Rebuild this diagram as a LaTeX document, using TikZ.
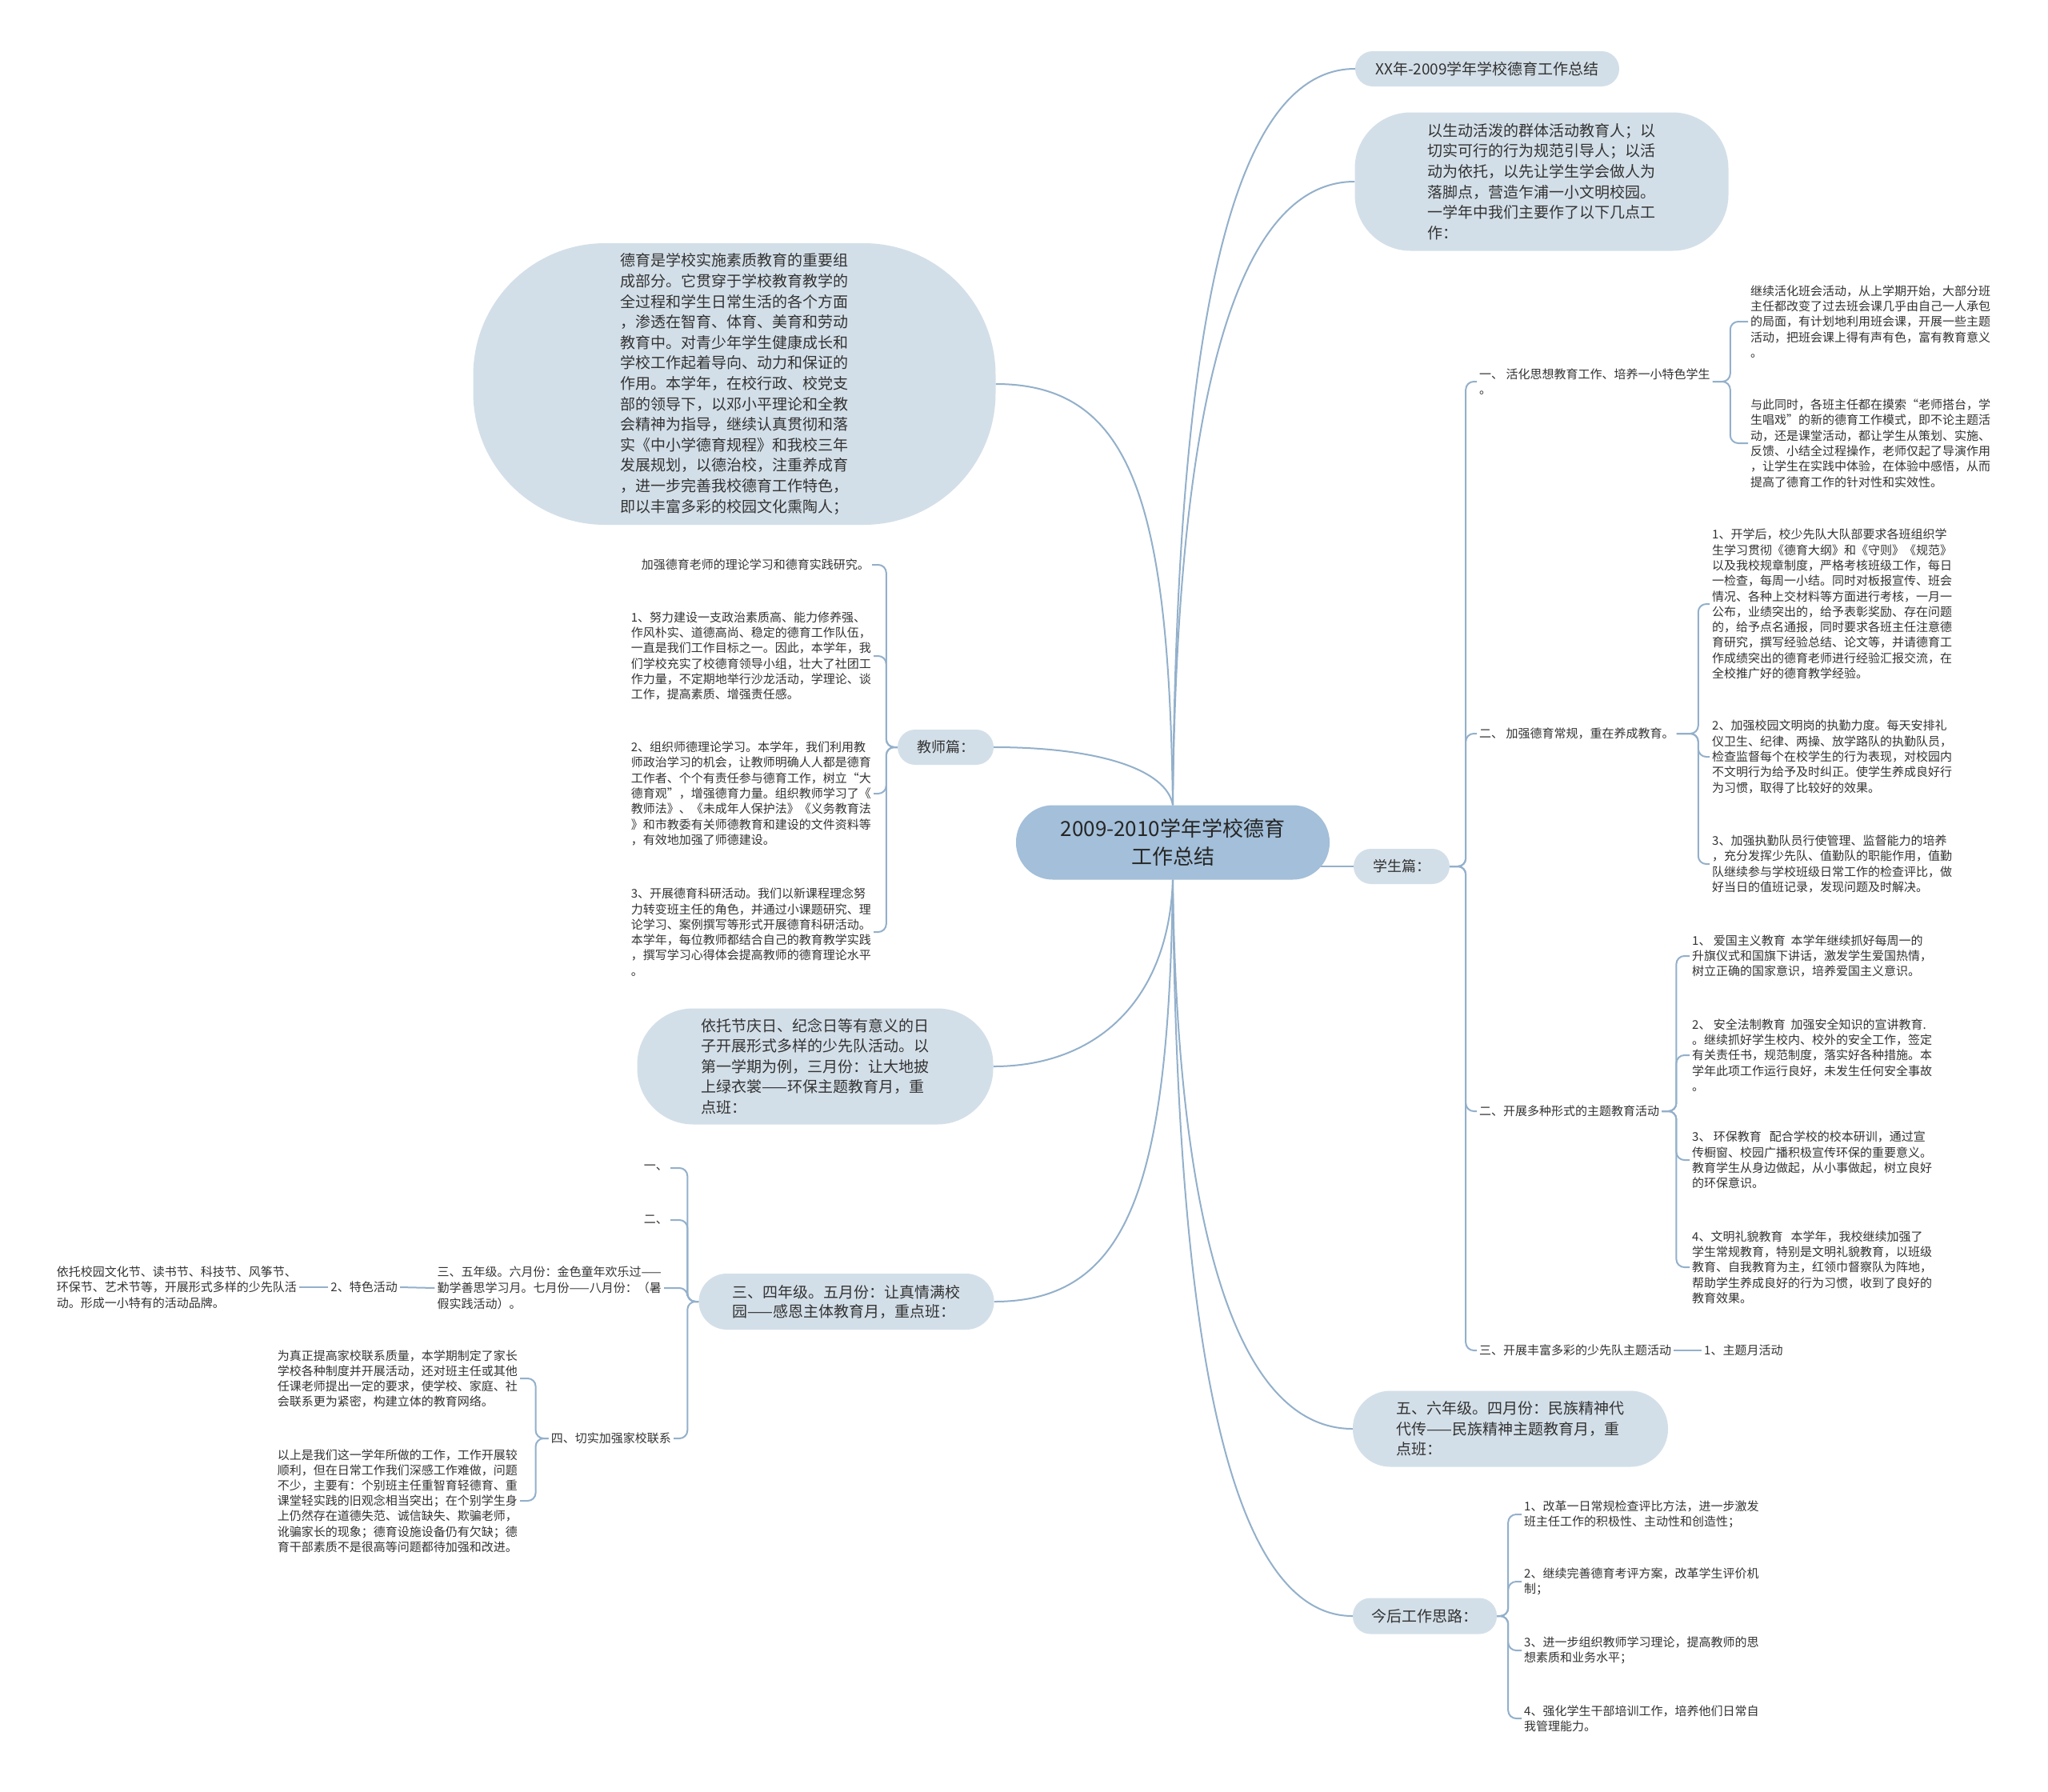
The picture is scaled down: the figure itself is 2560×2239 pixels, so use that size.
\documentclass[tikz,border=0pt]{standalone}
\usepackage{fontspec}
\setmainfont{Noto Sans CJK SC}
\usepackage{tikz}
\usetikzlibrary{backgrounds}
\definecolor{hubblue}{HTML}{A3BFD9}
\definecolor{padblue}{HTML}{D3DFE8}
\definecolor{wireblue}{HTML}{93B0CB}
\definecolor{inkgray}{HTML}{333333}

\begin{document}
\begin{tikzpicture}[x=1pt,y=-1pt,
  hub/.style={fill=hubblue,rounded corners=46pt,minimum width=392pt,minimum height=93pt,align=center,text=black!85,font=\fontsize{26}{35}\selectfont},
  topic/.style={fill=padblue,align=left,inner sep=0pt,text=inkgray,font=\fontsize{19}{25.6}\selectfont},
  leaf/.style={align=left,inner sep=3pt,text=inkgray,font=\fontsize{15}{19.3}\selectfont},
  wire/.style={draw=wireblue,line width=2pt},
  fork/.style={wire,rounded corners=10pt}]
\useasboundingbox (0,0) rectangle (2560,2239);

\node[hub] (cen) at (1466,1053) {2009-2010学年学校德育\\工作总结};

\node[topic,minimum width=330pt,minimum height=44pt,rounded corners=22pt] (xx) at (1859,86) {XX年-2009学年学校德育工作总结};
\node[topic,minimum width=467pt,minimum height=173pt,rounded corners=70pt] (yisd) at (1927,227) {以生动活泼的群体活动教育人；以\\切实可行的行为规范引导人；以活\\动为依托，以先让学生学会做人为\\落脚点，营造乍浦一小文明校园。\\一学年中我们主要作了以下几点工\\作：};
\node[topic,minimum width=120pt,minimum height=44pt,rounded corners=22pt,font=\fontsize{18}{24}\selectfont] (stu) at (1752,1083) {学生篇：};
\node[topic,minimum width=394pt,minimum height=95pt,rounded corners=47pt] (wuliu) at (1888,1786) {五、六年级。四月份：民族精神代\\代传——民族精神主题教育月，重\\点班：};
\node[topic,minimum width=180pt,minimum height=45pt,rounded corners=22pt] (jinhou) at (1781,2020) {今后工作思路：};
\node[topic,minimum width=120pt,minimum height=44pt,rounded corners=22pt,font=\fontsize{18}{24}\selectfont] (teach) at (1182,934) {教师篇：};
\node[topic,minimum width=653pt,minimum height=352pt,rounded corners=165pt] (deyu) at (918,480) {德育是学校实施素质教育的重要组\\成部分。它贯穿于学校教育教学的\\全过程和学生日常生活的各个方面\\，渗透在智育、体育、美育和劳动\\教育中。对青少年学生健康成长和\\学校工作起着导向、动力和保证的\\作用。本学年，在校行政、校党支\\部的领导下，以邓小平理论和全教\\会精神为指导，继续认真贯彻和落\\实《中小学德育规程》和我校三年\\发展规划，以德治校，注重养成育\\，进一步完善我校德育工作特色，\\即以丰富多彩的校园文化熏陶人；};
\node[topic,minimum width=445pt,minimum height=145pt,rounded corners=70pt] (yituo) at (1019,1333) {依托节庆日、纪念日等有意义的日\\子开展形式多样的少先队活动。以\\第一学期为例，三月份：让大地披\\上绿衣裳——环保主题教育月，重\\点班：};
\node[topic,minimum width=369pt,minimum height=70pt,rounded corners=35pt,font=\fontsize{19}{24}\selectfont] (sansi) at (1058,1627) {三、四年级。五月份：让真情满校\\园——感恩主体教育月，重点班：};

\node[leaf,anchor=west] (s1) at (1846,477) {一、 活化思想教育工作、培养一小特色学生\\。};
\node[leaf,anchor=west] (s1a) at (2185,402) {继续活化班会活动，从上学期开始，大部分班\\主任都改变了过去班会课几乎由自己一人承包\\的局面，有计划地利用班会课，开展一些主题\\活动，把班会课上得有声有色，富有教育意义\\。};
\node[leaf,anchor=west] (s1b) at (2185,554) {与此同时，各班主任都在摸索“老师搭台，学\\生唱戏”的新的德育工作模式，即不论主题活\\动，还是课堂活动，都让学生从策划、实施、\\反馈、小结全过程操作，老师仅起了导演作用\\，让学生在实践中体验，在体验中感悟，从而\\提高了德育工作的针对性和实效性。};
\node[leaf,anchor=west] (s2) at (1846,917) {二、 加强德育常规，重在养成教育。};
\node[leaf,anchor=west] (s2a) at (2137,755) {1、开学后，校少先队大队部要求各班组织学\\生学习贯彻《德育大纲》和《守则》《规范》\\以及我校规章制度，严格考核班级工作，每日\\一检查，每周一小结。同时对板报宣传、班会\\情况、各种上交材料等方面进行考核，一月一\\公布，业绩突出的，给予表彰奖励、存在问题\\的，给予点名通报，同时要求各班主任注意德\\育研究，撰写经验总结、论文等，并请德育工\\作成绩突出的德育老师进行经验汇报交流，在\\全校推广好的德育教学经验。};
\node[leaf,anchor=west] (s2b) at (2137,946) {2、加强校园文明岗的执勤力度。每天安排礼\\仪卫生、纪律、两操、放学路队的执勤队员，\\检查监督每个在校学生的行为表现，对校园内\\不文明行为给予及时纠正。使学生养成良好行\\为习惯，取得了比较好的效果。};
\node[leaf,anchor=west] (s2c) at (2137,1080) {3、加强执勤队员行使管理、监督能力的培养\\，充分发挥少先队、值勤队的职能作用，值勤\\队继续参与学校班级日常工作的检查评比，做\\好当日的值班记录，发现问题及时解决。};
\node[leaf,anchor=west] (s3) at (1846,1389) {二、开展多种形式的主题教育活动};
\node[leaf,anchor=west] (s3a) at (2112,1195) {1、 爱国主义教育\ \ 本学年继续抓好每周一的\\升旗仪式和国旗下讲话，激发学生爱国热情，\\树立正确的国家意识，培养爱国主义意识。};
\node[leaf,anchor=west] (s3b) at (2112,1319) {2、 安全法制教育\ \ 加强安全知识的宣讲教育.\\。继续抓好学生校内、校外的安全工作，签定\\有关责任书，规范制度，落实好各种措施。本\\学年此项工作运行良好，未发生任何安全事故\\。};
\node[leaf,anchor=west] (s3c) at (2112,1450) {3、 环保教育\ \ \ 配合学校的校本研训，通过宣\\传橱窗、校园广播积极宣传环保的重要意义。\\教育学生从身边做起，从小事做起，树立良好\\的环保意识。};
\node[leaf,anchor=west] (s3d) at (2112,1584) {4、文明礼貌教育\ \ \ 本学年，我校继续加强了\\学生常规教育，特别是文明礼貌教育，以班级\\教育、自我教育为主，红领巾督察队为阵地，\\帮助学生养成良好的行为习惯，收到了良好的\\教育效果。};
\node[leaf,anchor=west] (s4) at (1846,1688) {三、开展丰富多彩的少先队主题活动};
\node[leaf,anchor=west] (s4a) at (2127,1688) {1、主题月活动};

\node[leaf,anchor=west,font=\fontsize{15}{18.5}\selectfont] (j1) at (1902,1893) {1、改革一日常规检查评比方法，进一步激发\\班主任工作的积极性、主动性和创造性；};
\node[leaf,anchor=west,font=\fontsize{15}{18.5}\selectfont] (j2) at (1902,1977) {2、继续完善德育考评方案，改革学生评价机\\制；};
\node[leaf,anchor=west,font=\fontsize{15}{18.5}\selectfont] (j3) at (1902,2063) {3、进一步组织教师学习理论，提高教师的思\\想素质和业务水平；};
\node[leaf,anchor=west,font=\fontsize{15}{18.5}\selectfont] (j4) at (1902,2148) {4、强化学生干部培训工作，培养他们日常自\\我管理能力。};

\node[leaf,anchor=east] (t0) at (1090,706) {加强德育老师的理论学习和德育实践研究。};
\node[leaf,anchor=east] (t1) at (1092,820) {1、努力建设一支政治素质高、能力修养强、\\作风朴实、道德高尚、稳定的德育工作队伍，\\一直是我们工作目标之一。因此，本学年，我\\们学校充实了校德育领导小组，壮大了社团工\\作力量，不定期地举行沙龙活动，学理论、谈\\工作，提高素质、增强责任感。};
\node[leaf,anchor=east] (t2) at (1092,992) {2、组织师德理论学习。本学年，我们利用教\\师政治学习的机会，让教师明确人人都是德育\\工作者、个个有责任参与德育工作，树立“大\\德育观”，增强德育力量。组织教师学习了《\\教师法》、《未成年人保护法》《义务教育法\\》和市教委有关师德教育和建设的文件资料等\\，有效地加强了师德建设。};
\node[leaf,anchor=east] (t3) at (1092,1165) {3、开展德育科研活动。我们以新课程理念努\\力转变班主任的角色，并通过小课题研究、理\\论学习、案例撰写等形式开展德育科研活动。\\本学年，每位教师都结合自己的教育教学实践\\，撰写学习心得体会提高教师的德育理论水平\\。};

\node[leaf,anchor=east] (y1) at (838,1460) {一、};
\node[leaf,anchor=east] (y2) at (838,1525) {二、};
\node[leaf,anchor=east,font=\fontsize{15}{19.7}\selectfont] (y3) at (830,1610) {三、五年级。六月份：金色童年欢乐过——\\勤学善思学习月。七月份——八月份：（暑\\假实践活动）。};
\node[leaf,anchor=east] (y4) at (842,1798) {四、切实加强家校联系};
\node[leaf,anchor=east] (ts) at (500,1609) {2、特色活动};
\node[leaf,anchor=east] (tsx) at (374,1609) {依托校园文化节、读书节、科技节、风筝节、\\环保节、艺术节等，开展形式多样的少先队活\\动。形成一小特有的活动品牌。};
\node[leaf,anchor=east,font=\fontsize{15}{19}\selectfont] (ja) at (650,1723) {为真正提高家校联系质量，本学期制定了家长\\学校各种制度并开展活动，还对班主任或其他\\任课老师提出一定的要求，使学校、家庭、社\\会联系更为紧密，构建立体的教育网络。};
\node[leaf,anchor=east,font=\fontsize{15}{19.2}\selectfont] (jb) at (650,1876) {以上是我们这一学年所做的工作，工作开展较\\顺利，但在日常工作我们深感工作难做，问题\\不少，主要有：个别班主任重智育轻德育、重\\课堂轻实践的旧观念相当突出；在个别学生身\\上仍然存在道德失范、诚信缺失、欺骗老师，\\讹骗家长的现象；德育设施设备仍有欠缺；德\\育干部素质不是很高等问题都待加强和改进。};

\begin{scope}[on background layer]
\fill[white] (0,0) rectangle (2560,2239);
\draw[wire] (cen.north) .. controls +(5,-620) and +(-150,0) .. (xx.west);
\draw[wire] (cen.north) .. controls +(5,-500) and +(-150,0) .. (yisd.west);
\draw[wire] (stu.west) -- (stu.west -| cen.center);
\draw[wire] (cen.south) .. controls +(5,420) and +(-150,0) .. (wuliu.west);
\draw[wire] (cen.south) .. controls +(5,600) and +(-150,0) .. (jinhou.west);
\draw[wire] (cen.north) .. controls +(-8,-45) and +(130,0) .. (teach.east);
\draw[wire] (cen.north) .. controls +(-5,-380) and +(170,0) .. (deyu.east);
\draw[wire] (cen.south) .. controls +(-5,150) and +(130,0) .. (yituo.east);
\draw[wire] (cen.south) .. controls +(-5,380) and +(170,0) .. (sansi.east);

\draw[fork] (stu.east) -- ++(20,0) |- (s1.west);
\draw[fork] (stu.east) -- ++(20,0) |- (s2.west);
\draw[fork] (stu.east) -- ++(20,0) |- (s3.west);
\draw[fork] (stu.east) -- ++(20,0) |- (s4.west);
\draw[fork] (s1.east) -- ++(22,0) |- (s1a.west);
\draw[fork] (s1.east) -- ++(22,0) |- (s1b.west);
\draw[fork] (s2.east) -- ++(27,0) |- (s2a.west);
\draw[fork] (s2.east) -- ++(27,0) |- (s2b.west);
\draw[fork] (s2.east) -- ++(27,0) |- (s2c.west);
\draw[fork] (s3.east) -- ++(18,0) |- (s3a.west);
\draw[fork] (s3.east) -- ++(18,0) |- (s3b.west);
\draw[fork] (s3.east) -- ++(18,0) |- (s3c.west);
\draw[fork] (s3.east) -- ++(18,0) |- (s3d.west);
\draw[wire] (s4.east) -- (s4a.west);
\draw[fork] (jinhou.east) -- ++(14,0) |- (j1.west);
\draw[fork] (jinhou.east) -- ++(14,0) |- (j2.west);
\draw[fork] (jinhou.east) -- ++(14,0) |- (j3.west);
\draw[fork] (jinhou.east) -- ++(14,0) |- (j4.west);

\draw[fork] (teach.west) -- ++(-14,0) |- (t0.east);
\draw[fork] (teach.west) -- ++(-14,0) |- (t1.east);
\draw[fork] (teach.west) -- ++(-14,0) |- (t2.east);
\draw[fork] (teach.west) -- ++(-14,0) |- (t3.east);
\draw[fork] (sansi.west) -- ++(-14,0) |- (y1.east);
\draw[fork] (sansi.west) -- ++(-14,0) |- (y2.east);
\draw[fork] (sansi.west) -- ++(-14,0) |- (y3.east);
\draw[fork] (sansi.west) -- ++(-14,0) |- (y4.east);
\draw[wire] (y3.west) -- (ts.east);
\draw[wire] (ts.west) -- (tsx.east);
\draw[fork] (y4.west) -- ++(-16,0) |- (ja.east);
\draw[fork] (y4.west) -- ++(-16,0) |- (jb.east);
\end{scope}
\end{tikzpicture}
\end{document}
